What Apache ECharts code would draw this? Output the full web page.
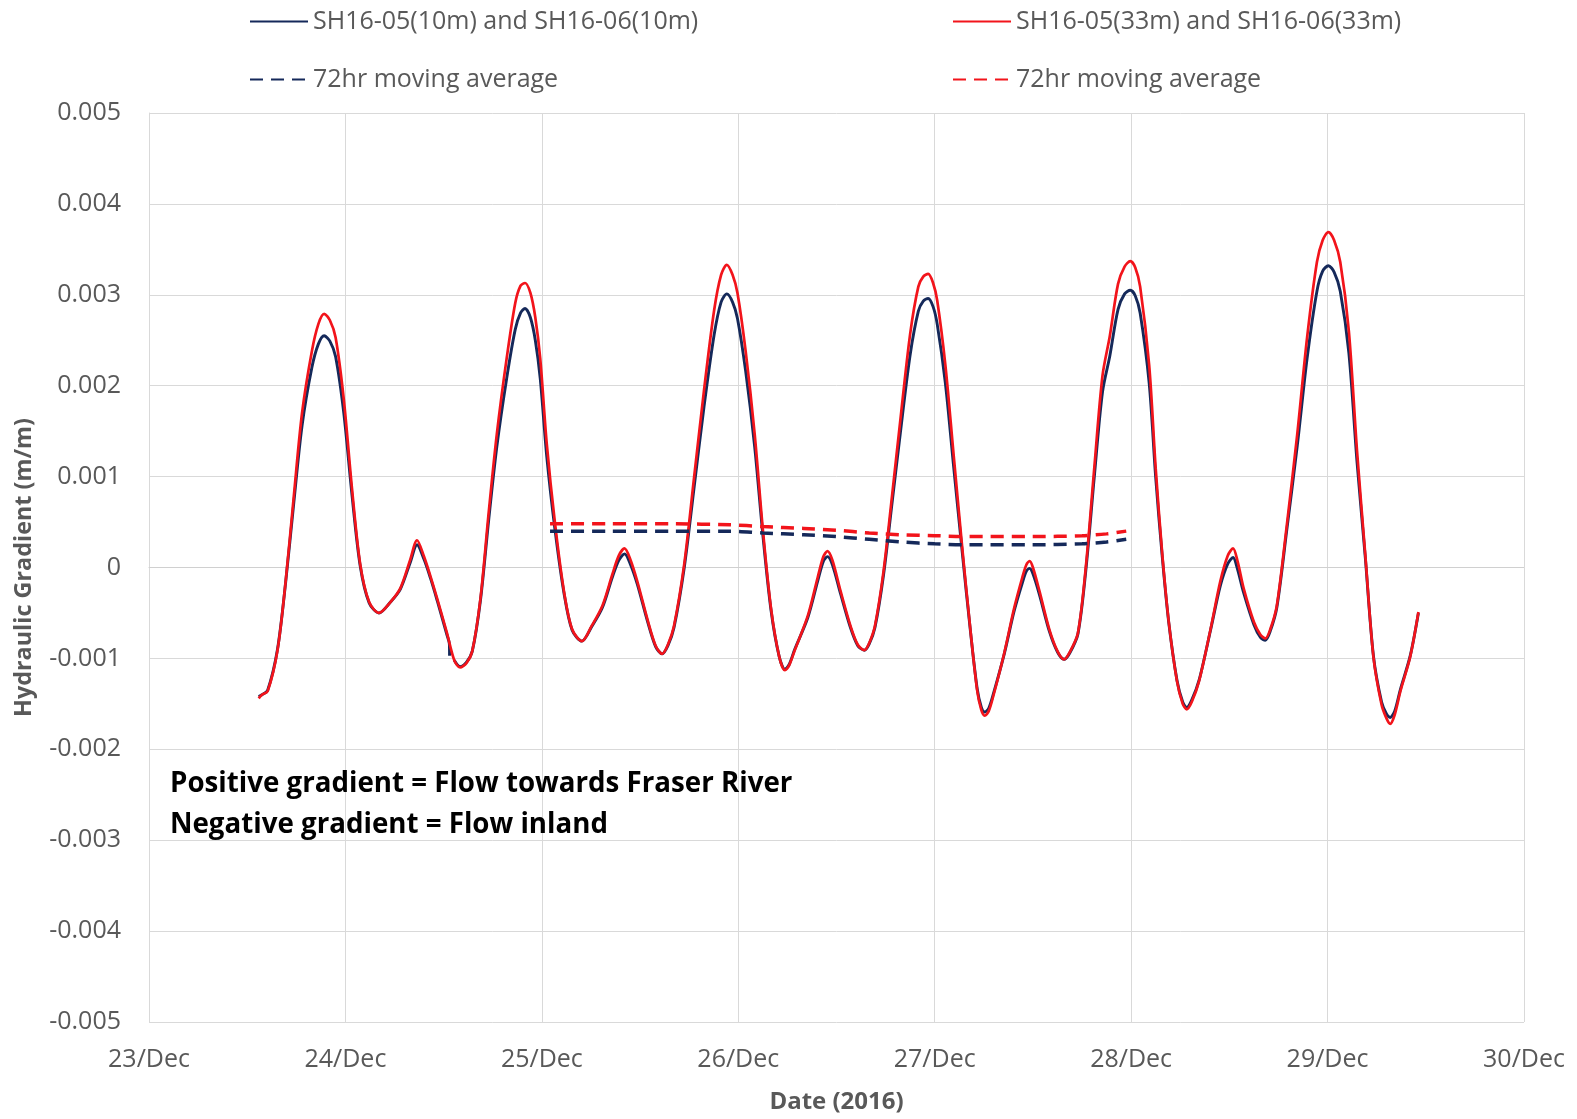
<!DOCTYPE html>
<html>
<head>
<meta charset="utf-8">
<title>Hydraulic Gradient</title>
<script src="https://cdn.jsdelivr.net/npm/echarts@6/dist/echarts.min.js"></script>
<style>
  html, body { margin: 0; padding: 0; background: #fff; }
  #chart { width: 1577px; height: 1119px; }
</style>
</head>
<body>
<div id="chart"></div>
<script>
// Hours counted from 23/Dec/2016 00:00
const dayLabels = ['23/Dec', '24/Dec', '25/Dec', '26/Dec', '27/Dec', '28/Dec', '29/Dec', '30/Dec'];
const yTickLabels = ['-0.005', '-0.004', '-0.003', '-0.002', '-0.001', '0', '0.001', '0.002', '0.003', '0.004', '0.005'];

const seriesNames = [
  'SH16-05(10m) and SH16-06(10m)',
  'SH16-05(33m) and SH16-06(33m)',
  '72hr moving average',
  '72hr moving average '
];

const hours = [
  13.4, 13.8, 14.5, 15.7, 16.7, 17.7, 18.7, 19.9, 20.7, 21.4, 22.1, 22.8, 23.8, 24.8, 25.8, 26.9,
  28.1, 29.5, 30.7, 31.9, 32.75, 33.6, 34.4, 35.2, 36.4, 37.3, 38.0, 38.8, 39.5, 40.5, 41.5, 42.5,
  43.7, 44.75, 45.4, 45.95, 46.6, 47.2, 47.8, 48.6, 49.6, 50.7, 51.7, 52.9, 54.1, 55.4, 56.6, 57.4,
  58.1, 58.8, 59.65, 60.9, 61.9, 62.7, 63.4, 64.15, 65.4, 66.6, 67.8, 69.05, 69.9, 70.6, 71.3, 71.9,
  72.9, 74.0, 75.0, 76.0, 77.0, 77.7, 78.2, 78.9, 80.5, 81.7, 82.4, 82.9, 83.5, 84.5, 85.7, 86.6,
  87.4, 88.0, 88.7, 89.75, 90.8, 91.8, 93.0, 94.0, 94.6, 95.2, 95.8, 96.3, 97.3, 98.3, 99.35, 100.4,
  101.2, 101.7, 102.1, 102.6, 103.2, 104.5, 105.7, 106.7, 107.2, 107.6, 108.0, 108.8, 110.0, 111.0, 111.8, 112.5,
  113.5, 114.5, 115.5, 116.5, 117.4, 118.4, 119.2, 119.9, 120.5, 121.1, 122.2, 123.0, 123.8, 124.6, 125.6, 126.3,
  126.8, 127.4, 128.3, 129.7, 130.9, 131.8, 132.45, 133.0, 133.75, 135.0, 135.8, 136.4, 137.0, 137.8, 139.0, 140.3,
  141.5, 142.7, 143.4, 144.1, 144.8, 145.55, 146.6, 147.6, 148.6, 149.6, 150.6, 151.2, 151.65, 152.2, 152.9, 154.1,
  155.1
];

// Gradient between the 33 m screens
const grad33 = [
  -0.00144, -0.00140, -0.00136, -0.00091, -0.00015, 0.00079, 0.00170, 0.00238, 0.00268, 0.00279, 0.00272, 0.00253, 0.00185, 0.00087, 0.00004, -0.00038,
  -0.00050, -0.00038, -0.00023, 0.00008, 0.00030, 0.00012, -0.00010, -0.00034, -0.00072, -0.00102, -0.00110, -0.00105, -0.00092, -0.00034, 0.00060, 0.00147,
  0.00230, 0.00291, 0.00310, 0.00313, 0.00302, 0.00275, 0.00230, 0.00136, 0.00049, -0.00026, -0.00068, -0.00081, -0.00064, -0.00042, -0.00008, 0.00013,
  0.00021, 0.00009, -0.00015, -0.00057, -0.00086, -0.00095, -0.00085, -0.00064, 0.00004, 0.00099, 0.00194, 0.00283, 0.00322, 0.00333, 0.00322, 0.00302,
  0.00238, 0.00147, 0.00042, -0.00045, -0.00098, -0.00113, -0.00108, -0.00091, -0.00053, -0.00011, 0.00012, 0.00018, 0.00008, -0.00026, -0.00064, -0.00085,
  -0.00091, -0.00083, -0.00064, -0.00004, 0.00080, 0.00162, 0.00257, 0.00309, 0.00320, 0.00323, 0.00313, 0.00294, 0.00223, 0.00125, 0.00023, -0.00072,
  -0.00136, -0.00157, -0.00163, -0.00158, -0.00140, -0.00094, -0.00045, -0.00011, 0.00003, 0.00007, 0.00000, -0.00026, -0.00068, -0.00092, -0.00101, -0.00093,
  -0.00072, 0.00004, 0.00110, 0.00211, 0.00255, 0.00312, 0.00331, 0.00337, 0.00330, 0.00309, 0.00223, 0.00109, 0.00015, -0.00060, -0.00125, -0.00150,
  -0.00156, -0.00148, -0.00125, -0.00068, -0.00015, 0.00013, 0.00021, 0.00007, -0.00023, -0.00060, -0.00074, -0.00078, -0.00068, -0.00042, 0.00045, 0.00147,
  0.00253, 0.00336, 0.00360, 0.00369, 0.00360, 0.00336, 0.00260, 0.00128, 0.00015, -0.00098, -0.00151, -0.00166, -0.00172, -0.00162, -0.00136, -0.00098,
  -0.00049
];

// Gradient between the 10 m screens
const grad10 = [
  -0.00142, -0.00140, -0.00135, -0.00090, -0.00016, 0.00072, 0.00156, 0.00220, 0.00246, 0.00255, 0.00249, 0.00232, 0.00170, 0.00080, 0.00002, -0.00039,
  -0.00050, -0.00038, -0.00024, 0.00005, 0.00025, 0.00009, -0.00012, -0.00036, -0.00074, -0.00102, -0.00109, -0.00104, -0.00092, -0.00036, 0.00052, 0.00133,
  0.00208, 0.00262, 0.00280, 0.00285, 0.00275, 0.00250, 0.00208, 0.00122, 0.00042, -0.00028, -0.00069, -0.00081, -0.00065, -0.00044, -0.00011, 0.00008,
  0.00015, 0.00004, -0.00018, -0.00059, -0.00087, -0.00095, -0.00086, -0.00066, 0.00000, 0.00088, 0.00176, 0.00256, 0.00292, 0.00301, 0.00292, 0.00274,
  0.00216, 0.00133, 0.00036, -0.00047, -0.00098, -0.00112, -0.00107, -0.00090, -0.00055, -0.00015, 0.00007, 0.00012, 0.00003, -0.00029, -0.00066, -0.00086,
  -0.00091, -0.00084, -0.00066, -0.00008, 0.00072, 0.00148, 0.00234, 0.00282, 0.00293, 0.00296, 0.00287, 0.00268, 0.00203, 0.00112, 0.00018, -0.00073,
  -0.00134, -0.00154, -0.00159, -0.00155, -0.00138, -0.00095, -0.00048, -0.00017, -0.00004, -0.00001, -0.00007, -0.00030, -0.00070, -0.00093, -0.00101, -0.00094,
  -0.00073, 0.00000, 0.00100, 0.00193, 0.00233, 0.00284, 0.00301, 0.00305, 0.00299, 0.00280, 0.00203, 0.00099, 0.00012, -0.00061, -0.00124, -0.00148,
  -0.00154, -0.00146, -0.00124, -0.00069, -0.00020, 0.00004, 0.00011, -0.00002, -0.00028, -0.00063, -0.00077, -0.00080, -0.00070, -0.00044, 0.00040, 0.00134,
  0.00230, 0.00304, 0.00326, 0.00332, 0.00325, 0.00304, 0.00236, 0.00116, 0.00012, -0.00097, -0.00148, -0.00161, -0.00165, -0.00158, -0.00134, -0.00097,
  -0.00050
];

// Short logger glitch in the 10 m record on 24/Dec
const glitch10Hours = [36.7, 36.72];
const glitch10Values = [-0.00084, -0.00097];

// 72 hr moving averages
const maHours = [49.0, 56.0, 64.0, 71.0, 75.0, 80.0, 84.0, 88.0, 92.0, 96.0, 100.0, 108.0, 114.0, 117.0, 119.4];
const ma33 = [0.00048, 0.00048, 0.00048, 0.00047, 0.00045, 0.00043, 0.00041, 0.00038, 0.00036, 0.00035, 0.00034, 0.00034, 0.00035, 0.00037, 0.00040];
const ma10 = [0.00040, 0.00040, 0.00040, 0.00040, 0.00038, 0.00036, 0.00034, 0.00031, 0.00028, 0.00026, 0.00025, 0.00025, 0.00026, 0.00028, 0.00031];

const NAVY = '#15295A';
const RED = '#F2141B';
const FONT = '"Open Sans", "Noto Sans", sans-serif';

function pairs(xs, ys) {
  return xs.map((x, i) => [x, ys[i]]);
}

// 10 m record with its brief glitch spliced in as a detached spike
const data10 = [];
hours.forEach((h, i) => {
  data10.push([h, grad10[i]]);
  if (h === 36.4) {
    glitch10Hours.forEach((gh, j) => data10.push([gh, glitch10Values[j]]));
    data10.push([36.74, null]);
  }
});

const chart = echarts.init(document.getElementById('chart'), null, { renderer: 'canvas' });

const legendText = { color: '#595959', fontSize: 25, fontFamily: FONT };
function legendAt(name, left, top) {
  return {
    data: [name], left: left, top: top, padding: 0,
    itemWidth: 58, itemHeight: 14, itemGap: 0,
    // keep only the line sample in each key (no marker dot)
    itemStyle: { color: 'rgba(0,0,0,0)', borderColor: 'rgba(0,0,0,0)', borderWidth: 0, opacity: 0 },
    textStyle: legendText, selectedMode: false
  };
}

chart.setOption({
  animation: false,
  backgroundColor: '#ffffff',
  textStyle: { fontFamily: FONT },
  legend: [
    legendAt(seriesNames[0], 249, 9),
    legendAt(seriesNames[1], 952, 9),
    legendAt(seriesNames[2], 249, 67),
    legendAt(seriesNames[3], 952, 67)
  ],
  grid: { left: 149, right: 53, top: 113, bottom: 96, containLabel: false },
  xAxis: {
    type: 'value', min: 0, max: 168, interval: 24,
    name: 'Date (2016)', nameLocation: 'middle', nameGap: 68,
    nameTextStyle: { color: '#595959', fontSize: 24, fontWeight: 'bold', fontFamily: FONT },
    axisLine: { show: true, lineStyle: { color: '#D0D0D0', width: 1 } },
    axisTick: { show: false },
    axisLabel: {
      color: '#595959', fontSize: 25, fontFamily: FONT, margin: 25,
      formatter: v => dayLabels[Math.round(v / 24)]
    },
    splitLine: { show: true, lineStyle: { color: '#D9D9D9', width: 1 } }
  },
  yAxis: {
    type: 'value', min: -0.005, max: 0.005, interval: 0.001,
    name: 'Hydraulic Gradient (m/m)', nameLocation: 'middle', nameGap: 113,
    nameTextStyle: { color: '#595959', fontSize: 23.4, fontWeight: 'bold', fontFamily: FONT },
    axisLine: { show: true, lineStyle: { color: '#D9D9D9', width: 1 } },
    axisTick: { show: false },
    axisLabel: {
      color: '#595959', fontSize: 25, fontFamily: FONT, margin: 28,
      formatter: v => yTickLabels[Math.round((v + 0.005) / 0.001)]
    },
    splitLine: { show: true, lineStyle: { color: '#D9D9D9', width: 1 } }
  },
  series: [
    {
      name: seriesNames[0], type: 'line', data: data10,
      symbol: 'none', smooth: 0.3, connectNulls: false,
      lineStyle: { color: NAVY, width: 2.9 }, itemStyle: { color: NAVY }, z: 2
    },
    {
      name: seriesNames[1], type: 'line', data: pairs(hours, grad33),
      symbol: 'none', smooth: 0.3,
      lineStyle: { color: RED, width: 2.7 }, itemStyle: { color: RED }, z: 3
    },
    {
      name: seriesNames[2], type: 'line', data: pairs(maHours, ma10),
      symbol: 'none', smooth: 0.3,
      lineStyle: { color: NAVY, width: 3.5, type: [13, 8] }, itemStyle: { color: NAVY }, z: 4
    },
    {
      name: seriesNames[3], type: 'line', data: pairs(maHours, ma33),
      symbol: 'none', smooth: 0.3,
      lineStyle: { color: RED, width: 3.5, type: [13, 8] }, itemStyle: { color: RED }, z: 4
    }
  ],
  graphic: [
    {
      type: 'text', x: 170, y: 784, z: 10,
      style: {
        text: 'Positive gradient = Flow towards Fraser River',
        font: 'bold 27.7px "Open Sans", "Noto Sans", sans-serif',
        fill: '#000000', verticalAlign: 'middle'
      }
    },
    {
      type: 'text', x: 170, y: 825, z: 10,
      style: {
        text: 'Negative gradient = Flow inland',
        font: 'bold 27.7px "Open Sans", "Noto Sans", sans-serif',
        fill: '#000000', verticalAlign: 'middle'
      }
    }
  ]
});
</script>
</body>
</html>
